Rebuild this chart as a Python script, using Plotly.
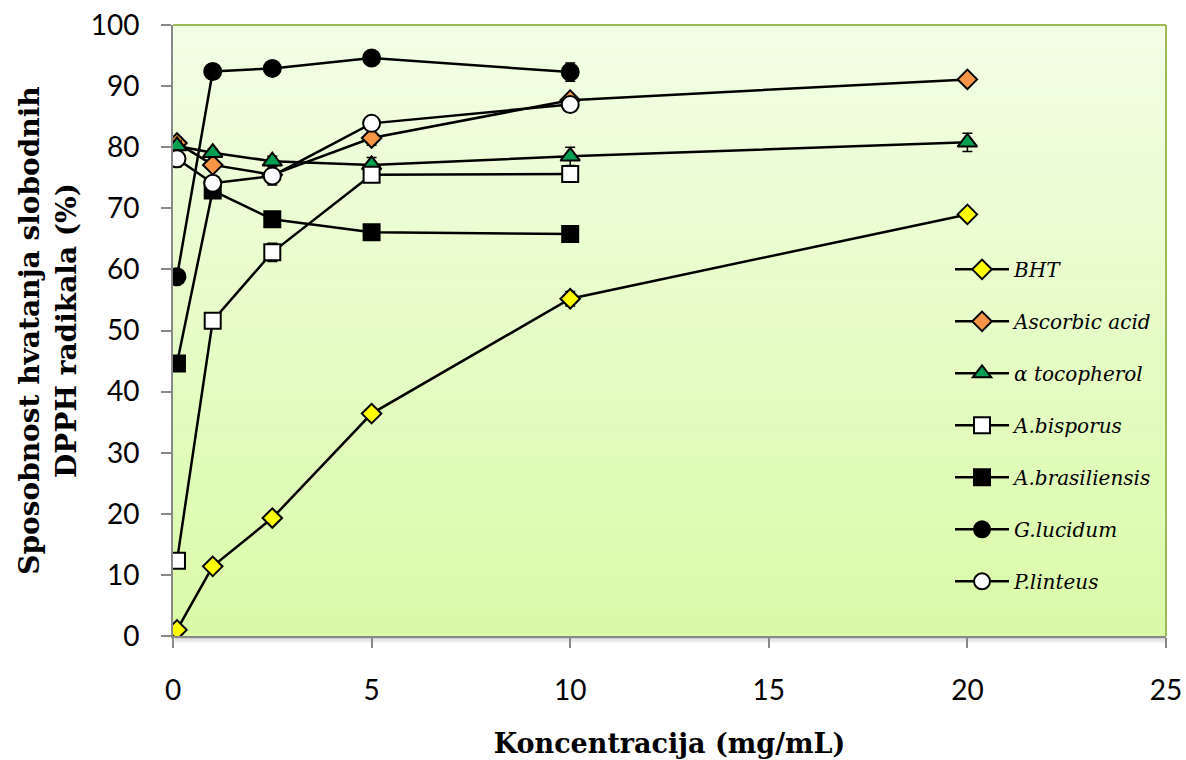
import plotly.graph_objects as go

conc = [0.1, 1, 2.5, 5, 10, 20]

bht = [1.0, 11.4, 19.3, 36.4, 55.2, 69.0]
bht_err = [0.4, 0.5, 0.5, 0.6, 1.2, 0.7]

ascorbic = [80.7, 77.1, 75.5, 81.5, 87.7, 91.1]
ascorbic_err = [1.0, 0.6, 0.6, 1.2, 0.8, 0.5]

tocopherol = [80.2, 79.1, 77.7, 77.1, 78.5, 80.8]
tocopherol_err = [0.8, 0.6, 0.8, 1.2, 1.5, 1.5]

bisporus = [12.3, 51.6, 62.8, 75.5, 75.6]
bisporus_err = [0.5, 0.6, 1.5, 0.6, 0.6]

brasiliensis = [44.6, 72.9, 68.2, 66.1, 65.8]
brasiliensis_err = [0.5, 0.5, 0.5, 0.5, 0.5]

lucidum = [58.8, 92.4, 92.9, 94.6, 92.3]
lucidum_err = [0.5, 0.5, 0.5, 0.5, 1.5]

linteus = [78.1, 74.1, 75.3, 83.9, 87.0]
linteus_err = [1.3, 0.5, 1.5, 0.5, 0.5]

x_ticks = [0, 5, 10, 15, 20, 25]
y_ticks = [0, 10, 20, 30, 40, 50, 60, 70, 80, 90, 100]

series = [
    ("BHT", conc, bht, bht_err, "diamond", "#ffff00", 15),
    ("Ascorbic acid", conc, ascorbic, ascorbic_err, "diamond", "#f79646", 15),
    ("α tocopherol", conc, tocopherol, tocopherol_err, "triangle-up", "#00a050", 17),
    ("A.bisporus", conc[:5], bisporus, bisporus_err, "square", "#ffffff", 16),
    ("A.brasiliensis", conc[:5], brasiliensis, brasiliensis_err, "square", "#000000", 16),
    ("G.lucidum", conc[:5], lucidum, lucidum_err, "circle", "#000000", 17),
    ("P.linteus", conc[:5], linteus, linteus_err, "circle", "#ffffff", 17),
]

fig = go.Figure()
for i, (name, xs, ys, es, sym, col, sz) in enumerate(series):
    fig.add_trace(go.Scatter(
        x=xs, y=ys, name=name, mode="lines+markers",
        legendgroup=f"g{i}",
        line=dict(color="black", width=2.5),
        marker=dict(symbol=sym, color=col, size=sz,
                    line=dict(color="black", width=2)),
        error_y=dict(type="data", array=es, visible=True,
                     color="black", thickness=1.5, width=5),
    ))

# gradient background bands
top = (243, 254, 230)
bot = (218, 250, 168)
n = 60
shapes = []
for k in range(n):
    t = k / (n - 1)
    c = tuple(round(top[j] + (bot[j] - top[j]) * t) for j in range(3))
    shapes.append(dict(type="rect", xref="x domain", yref="y domain",
                       x0=0, x1=1, y0=1 - (k + 1) / n, y1=1 - k / n,
                       fillcolor=f"rgb{c}", line=dict(width=0), layer="below"))
# green top and right border
shapes.append(dict(type="line", xref="x domain", yref="y domain", x0=0, x1=1, y0=1, y1=1,
                   line=dict(color="#9bbb59", width=2), layer="above"))
shapes.append(dict(type="line", xref="x domain", yref="y domain", x0=1, x1=1, y0=0, y1=1,
                   line=dict(color="#9bbb59", width=2), layer="above"))
# soft shadow under the bottom axis
for off, alpha in [(2, 0.18), (4, 0.10), (6, 0.05)]:
    shapes.append(dict(type="line", xref="x domain", yref="y domain",
                       ysizemode="pixel", yanchor=0, x0=0.002, x1=1.0, y0=-off, y1=-off,
                       line=dict(color=f"rgba(0,0,0,{alpha})", width=2), layer="below"))

fig.update_layout(
    width=1186, height=760,
    margin=dict(l=173, r=20, t=25, b=124),
    paper_bgcolor="white", plot_bgcolor="#e6fbc4",
    shapes=shapes,
    showlegend=True,
    legend=dict(x=0.7825, y=0.632, xanchor="left", yanchor="top",
                bgcolor="rgba(0,0,0,0)", tracegroupgap=23,
                font=dict(family="DejaVu Serif", size=20, color="black", style="italic"),
                itemwidth=54),
    xaxis=dict(range=[0, 25], tickvals=x_ticks, showgrid=False, zeroline=False,
               automargin=False,
               showline=True, linecolor="#888888", linewidth=2,
               ticks="outside", ticklen=10, tickcolor="#888888", tickwidth=1.5,
               ticklabelstandoff=18,
               tickfont=dict(family="Lato", size=28, color="black"),
               title=dict(text="<b>Koncentracija (mg/mL)</b>", standoff=30,
                          font=dict(family="DejaVu Serif", size=27, color="black"))),
    yaxis=dict(range=[0, 100], tickvals=y_ticks, showgrid=False, zeroline=False,
               automargin=False,
               showline=True, linecolor="#888888", linewidth=2,
               ticks="outside", ticklen=10, tickcolor="#888888", tickwidth=1.5,
               ticklabelstandoff=16,
               tickfont=dict(family="Lato", size=28, color="black"),
               title=dict(text="<b>Sposobnost hvatanja slobodnih<br>DPPH radikala (%)</b>",
                          standoff=6,
                          font=dict(family="DejaVu Serif", size=28, color="black"))),
)

fig.write_html("out.html")
